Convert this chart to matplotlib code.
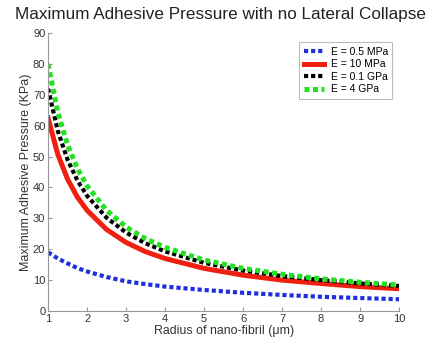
import numpy as np
import matplotlib.pyplot as plt

plt.rcParams['font.family'] = ['Liberation Sans', 'DejaVu Sans']

# radius of nano-fibril (um)
r = [1, 1.25, 1.5, 1.75, 2, 2.5, 3, 3.5, 4, 5, 6, 7, 8, 9, 10]
# max adhesive pressure (KPa)
p_05mpa = [19.0, 17.0, 15.4, 13.9, 12.8, 11.0, 9.6, 8.7, 7.9, 6.8, 5.9, 5.2, 4.6, 4.2, 3.8]
p_10mpa = [62.5, 50.7, 42.7, 36.9, 32.6, 26.4, 22.2, 19.2, 17.0, 13.8, 11.6, 10.0, 8.9, 7.9, 7.2]
p_01gpa = [72.0, 58.3, 49.0, 42.3, 37.3, 30.2, 25.4, 21.9, 19.3, 15.6, 13.1, 11.3, 10.0, 8.9, 8.1]
p_4gpa = [80.0, 64.3, 53.8, 46.2, 40.5, 32.6, 27.2, 23.4, 20.6, 16.5, 13.8, 11.9, 10.4, 9.3, 8.4]

fig = plt.figure(figsize=(4.41, 3.41), dpi=100)
ax = fig.add_axes([0.109, 0.088, 0.796, 0.815])

dots = (0, (1, 0.7))
ax.plot(r, p_05mpa, color='#1f2fe0', lw=3, ls=dots, dash_capstyle='butt', label='E = 0.5 MPa')
ax.plot(r, p_10mpa, color='#f02010', lw=3.6, label='E = 10 MPa')
ax.plot(r, p_01gpa, color='black', lw=3, ls=dots, dash_capstyle='butt', label='E = 0.1 GPa')
ax.plot(r, p_4gpa, color='#22e022', lw=3.6, ls=dots, dash_capstyle='butt', label='E = 4 GPa')

ax.set_xlim(1, 10)
ax.set_ylim(0, 90)
ax.set_xticks(range(1, 11))
ax.set_yticks(range(0, 91, 10))
ax.spines['top'].set_visible(False)
ax.spines['right'].set_visible(False)
for s in ['left', 'bottom']:
    ax.spines[s].set_color('#999999')
    ax.spines[s].set_linewidth(0.8)
ax.tick_params(direction='in', length=3, color='#999999', labelsize=8, labelcolor='#333333', pad=2)

ax.set_xlabel('Radius of nano-fibril (\u03bcm)', fontsize=8.9, color='#333333', labelpad=1)
ax.set_ylabel('Maximum Adhesive Pressure (KPa)', fontsize=9, color='#333333', labelpad=1)
fig.suptitle('Maximum Adhesive Pressure with no Lateral Collapse', fontsize=12.3, color='#222222', y=0.98)

leg = ax.legend(loc='upper right', bbox_to_anchor=(0.995, 0.985), fontsize=7.5, handlelength=2,
                frameon=True, fancybox=False, borderpad=0.4, labelspacing=0.25, handletextpad=0.6)
leg.get_frame().set_edgecolor('#aaaaaa')
leg.get_frame().set_linewidth(0.8)

fig.savefig('out.png', dpi=100)
